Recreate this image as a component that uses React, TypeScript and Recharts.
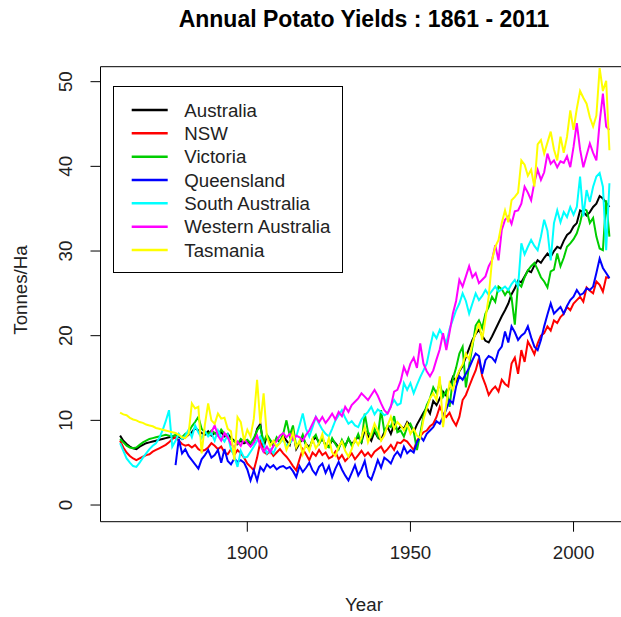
import { LineChart, Line, XAxis, YAxis, ReferenceArea } from "recharts";

// years 1861..2011
const years = Array.from({ length: 151 }, (_, i) => 1861 + i);
const xTicks = [1900, 1950, 2000];
const yTicks = [0, 10, 20, 30, 40, 50];

const australia = [
  8.2, 7.6, 7.2, 6.9, 6.7, 6.6, 6.9, 7.1, 7.3, 7.4,
  7.5, 7.6, 7.7, 7.8, 7.9, 8.0, 8.1, 7.9, 8.1, 7.8,
  8.0, 8.3, 8.6, 9.1, 8.8, 8.5, 8.3, 8.7, 8.2, 8.5,
  8.3, 8.6, 8.1, 8.4, 7.9, 7.6, 7.2, 7.6, 7.3, 7.5,
  7.0, 7.4, 9.0, 9.6, 6.8, 8.2, 7.6, 7.0, 7.8, 7.4,
  8.2, 7.6, 7.1, 8.8, 6.6, 7.3, 7.9, 7.2, 6.8, 7.6,
  8.0, 7.4, 7.8, 7.1, 6.9, 7.7, 7.3, 6.8, 7.5, 7.0,
  7.8, 7.2, 7.6, 8.1, 7.4, 8.9, 8.2, 7.6, 8.7, 8.0,
  7.7, 8.6, 9.2, 8.4, 9.5, 8.8, 9.3, 9.0, 9.8, 9.4,
  8.6, 9.5, 10.2, 10.9, 11.5, 10.8, 12.3, 11.8, 12.6, 13.4,
  12.9, 14.0, 15.1, 14.6, 15.8, 16.4, 17.5, 18.5, 19.5, 20.2,
  20.7, 20.0, 19.4, 19.2, 19.9, 20.7, 21.5, 22.3, 23.0, 23.8,
  24.9, 25.6, 26.5, 26.3, 27.0, 27.7, 27.5, 28.3, 28.9, 28.6,
  29.2, 29.7, 29.3, 30.0, 30.5, 30.3, 31.2, 31.9, 32.2, 32.9,
  33.3, 34.8, 34.6, 34.2, 34.6, 35.2, 35.6, 36.5, 36.2, 35.7,
  35.2,
];

const nsw = [
  7.6, 6.8, 6.2, 5.8, 5.5, 5.3, 5.5, 5.7, 5.9, 6.0,
  6.3, 6.5, 6.7, 6.9, 7.1, 7.4, 7.8, 8.0, 7.6, 7.2,
  7.0, 7.1, 6.8, 7.1, 6.6, 6.4, 6.5, 6.8, 7.3, 7.0,
  6.6, 6.9, 6.2, 6.0, 6.6, 5.9, 6.5, 6.1, 5.6, 4.9,
  4.5, 4.1, 5.6, 7.5, 6.3, 6.0, 6.4, 5.8, 6.2, 6.6,
  6.1, 5.7, 5.2, 4.6, 4.1, 5.4, 6.6, 6.0, 5.3, 6.2,
  5.8, 6.5, 5.9, 6.2, 5.5, 5.7, 6.3, 5.4, 5.9, 5.2,
  5.6, 6.1, 5.4, 5.9, 6.4, 5.8, 6.2, 5.7, 6.3, 6.6,
  6.9, 6.2, 6.6, 7.1, 6.5, 7.4, 7.3, 7.7, 7.5, 7.0,
  6.5, 7.6, 8.1, 8.6, 8.8, 9.3, 9.6, 10.4, 11.6, 10.8,
  10.4, 10.9, 10.0, 9.4, 10.4, 12.4, 13.0, 14.0, 15.0, 15.9,
  17.3, 15.2, 14.2, 13.0, 13.6, 14.0, 13.4, 14.8, 14.3, 14.0,
  16.7, 17.4, 15.5, 18.3, 16.9, 19.3, 18.6, 17.8, 19.1, 20.0,
  20.3, 21.1, 20.6, 21.8, 21.5, 22.2, 22.6, 23.4, 23.0, 23.8,
  24.2, 24.6, 24.0, 25.7, 25.3, 25.0, 26.4, 26.0, 25.2, 26.9,
  26.8,
];

const victoria = [
  7.8, 7.4, 7.0, 6.8, 6.7, 6.8, 7.1, 7.4, 7.6, 7.8,
  7.9, 8.0, 8.1, 8.2, 8.3, 8.2, 8.1, 8.3, 8.2, 8.0,
  8.4, 8.6, 9.3, 9.8, 10.4, 9.0, 8.6, 8.4, 8.8, 8.5,
  8.2, 8.9, 8.4, 8.0, 7.8, 7.5, 7.2, 7.8, 7.5, 7.7,
  7.3, 7.9, 8.8, 9.3, 7.4, 8.3, 7.7, 7.1, 8.0, 7.5,
  8.4, 10.0, 8.2, 9.4, 6.9, 7.4, 8.3, 7.0, 6.6, 7.8,
  8.3, 7.2, 7.9, 7.0, 6.8, 7.9, 7.2, 6.6, 7.7, 6.9,
  7.9, 7.0, 7.5, 8.4, 7.3, 10.8, 8.6, 8.1, 9.0, 8.1,
  11.2, 8.7, 9.4, 9.2, 10.5, 8.6, 8.8, 8.1, 9.2, 9.6,
  8.7, 6.5, 8.4, 10.5, 11.8, 12.6, 13.9, 13.2, 14.4, 12.8,
  13.5, 11.6, 14.9, 16.2, 17.9, 18.7, 13.9, 16.5, 18.7, 21.2,
  21.8, 20.9, 22.6, 23.4, 24.6, 24.0, 25.8, 25.5, 24.8, 25.4,
  24.5, 21.3, 26.2, 25.8, 26.9, 27.7, 28.2, 28.6, 27.8, 26.9,
  26.4, 25.7, 27.6, 27.8, 29.7, 28.2, 29.2, 30.5, 30.9, 31.4,
  32.1, 33.3, 35.0, 34.8, 33.3, 33.9, 31.7, 30.3, 30.1, 36.0,
  31.7,
];

const queensland = [
  null, null, null, null, null, null, null, null, null, null,
  null, null, null, null, null, null, null, 4.7, 7.8, 6.1,
  6.6, 5.8, 5.3, 4.8, 4.3, 5.4, 5.9, 6.5, 5.6, 5.9,
  6.5, 5.0, 6.6, 5.2, 4.8, 5.5, 5.1, 5.3, 5.0, 4.2,
  2.9, 4.1, 2.9, 4.5, 4.0, 4.8, 4.4, 4.7, 4.2, 4.5,
  4.6, 4.3, 4.5, 4.0, 3.3, 4.6, 3.9, 4.4, 5.0, 4.1,
  3.6, 4.5, 4.9, 3.8, 4.6, 3.3, 4.3, 5.1, 4.2, 3.5,
  2.9, 3.8, 4.7, 3.5, 4.2, 5.2, 3.4, 3.0, 4.1, 5.3,
  4.4, 5.6, 5.3, 4.9, 5.8, 6.3, 5.7, 6.9, 6.1, 6.5,
  6.2, 7.4, 8.1, 7.6, 8.4, 8.8, 9.2, 9.9, 9.6, 10.4,
  11.3, 12.4, 12.0, 14.0, 15.2, 14.8, 15.5, 16.2, 17.1, 17.9,
  17.6, 15.5, 17.1, 17.6, 17.4, 16.9, 18.2, 18.7, 20.5, 19.2,
  21.1, 20.4, 19.5, 20.0, 20.3, 21.1, 19.8, 18.7, 18.3, 19.5,
  21.1, 22.5, 23.8, 22.6, 23.0, 23.4, 22.6, 23.5, 24.2, 24.6,
  25.4, 24.8, 25.0, 25.6, 25.4, 25.8, 27.4, 29.1, 28.0, 27.4,
  26.8,
];

const southAustralia = [
  7.3, 6.4, 5.5, 5.0, 4.6, 4.5, 5.0, 5.6, 6.1, 6.6,
  7.0, 7.3, 7.9, 8.8, 9.9, 11.2, 6.9, 7.6, 8.4, 7.8,
  8.2, 8.9, 8.0, 9.4, 8.6, 7.9, 8.7, 8.1, 8.5, 7.6,
  8.8, 8.0, 7.5, 8.3, 6.6, 5.8, 4.5, 6.4, 5.6, 5.7,
  6.3, 6.9, 7.6, 8.1, 7.2, 6.1, 6.6, 6.1, 7.0, 7.4,
  7.7, 7.0, 7.3, 7.8, 8.1, 9.4, 10.8, 9.0, 8.1, 9.2,
  10.4, 9.6, 8.9, 8.4, 8.1, 9.0, 10.0, 10.6, 11.2, 10.3,
  9.6, 9.9, 9.4, 9.2, 10.1, 10.6, 11.0, 11.6, 10.7, 11.3,
  11.0, 10.6, 10.8, 11.7, 12.4, 11.8, 12.0, 14.4, 13.6, 14.4,
  13.2, 14.2, 15.1, 15.9, 16.7, 18.6, 20.3, 19.7, 20.7, 20.0,
  19.1, 20.8, 21.9, 23.0, 23.8, 25.0, 24.1, 22.6, 23.8, 25.0,
  24.2, 24.7, 25.4, 24.8, 25.3, 25.8, 25.2, 25.5, 25.8, 25.4,
  26.1, 26.6, 25.8, 30.9, 29.6, 30.5, 31.3, 30.6, 30.1, 31.7,
  33.7, 32.4, 28.9, 33.3, 34.8, 33.4, 34.6, 34.0, 35.2, 34.3,
  35.2, 38.8, 34.1, 37.2, 35.8, 37.6, 38.8, 39.2, 37.6, 30.1,
  38.0,
];

const westernAustralia = [
  null, null, null, null, null, null, null, null, null, null,
  null, null, null, null, null, null, null, null, null, null,
  null, null, null, null, null, null, null, null, 8.6, 9.4,
  8.2, 7.6, 8.5, 8.0, 7.2, 6.8, 7.5, 7.0, 7.8, 7.3,
  6.9, 7.4, 8.2, 7.0, 6.3, 6.9, 6.2, 7.0, 7.6, 8.2,
  8.5, 8.0, 8.4, 7.7, 8.2, 8.0, 7.6, 8.3, 8.8, 9.6,
  10.4, 9.8, 10.4, 9.7, 10.2, 10.8, 10.1, 11.0, 10.5, 11.6,
  11.0, 11.8, 12.2, 12.6, 13.2, 12.8, 12.4, 13.0, 13.6, 12.9,
  12.0, 11.2, 10.8, 11.6, 13.4, 13.6, 14.6, 16.3, 15.4, 16.7,
  17.4, 16.2, 19.1, 16.7, 15.8, 15.2, 15.9, 17.2, 18.4, 20.3,
  18.3, 20.4, 22.6, 24.1, 26.6, 25.8, 27.0, 28.2, 26.9, 27.4,
  26.2, 26.6, 27.0, 28.2, 28.9, 30.7, 28.9, 32.5, 33.7, 34.1,
  33.2, 34.7, 34.8, 35.6, 37.6, 36.9, 36.0, 38.1, 39.6, 38.4,
  39.3, 41.5, 40.3, 40.7, 39.9, 40.6, 40.4, 41.2, 39.9, 42.3,
  45.1, 42.0, 39.9, 41.3, 42.7, 41.6, 40.7, 45.2, 48.6, 44.7,
  44.3,
];

const tasmania = [
  10.9, 10.7, 10.6, 10.3, 10.1, 10.0, 9.8, 9.7, 9.5, 9.4,
  9.3, 9.1, 9.0, 8.9, 8.8, 8.7, 8.6, 8.5, 8.3, 8.0,
  7.9, 8.4, 12.0, 11.4, 11.6, 6.1, 9.5, 12.0, 10.0, 9.6,
  10.8, 10.2, 10.3, 9.0, 8.7, 5.3, 10.4, 9.8, 7.6, 8.9,
  8.1, 10.2, 14.8, 9.6, 13.2, 8.1, 7.0, 7.6, 6.9, 7.3,
  8.0, 6.5, 7.4, 8.6, 6.8, 7.6, 6.0, 7.2, 6.4, 7.8,
  6.7, 7.3, 8.4, 6.6, 7.9, 6.2, 5.8, 6.9, 7.5, 6.4,
  5.7, 6.6, 7.8, 7.1, 8.0, 9.2, 7.4, 8.4, 9.6, 8.8,
  7.6, 8.2, 9.4, 10.4, 9.0, 9.8, 9.4, 8.8, 9.6, 8.4,
  9.0, 8.2, 7.9, 10.1, 11.4, 12.6, 13.2, 12.4, 15.2, 9.2,
  12.0, 14.4, 13.6, 15.0, 15.9, 16.6, 17.9, 17.2, 19.1, 20.3,
  21.5, 19.5, 22.0, 24.6, 28.9, 30.5, 31.3, 33.3, 34.8, 33.4,
  36.0, 36.4, 36.9, 40.7, 40.2, 38.9, 39.6, 37.6, 42.6, 43.1,
  41.5, 42.8, 44.1, 42.0, 40.7, 43.5, 41.6, 43.5, 46.6, 44.3,
  46.8, 48.9, 48.1, 47.4, 45.8, 44.7, 46.0, 51.6, 48.9, 50.1,
  41.9,
];

const series = [
  { key: "australia", name: "Australia", color: "#000000", values: australia },
  { key: "nsw", name: "NSW", color: "#FF0000", values: nsw },
  { key: "victoria", name: "Victoria", color: "#00CD00", values: victoria },
  { key: "queensland", name: "Queensland", color: "#0000FF", values: queensland },
  { key: "sa", name: "South Australia", color: "#00FFFF", values: southAustralia },
  { key: "wa", name: "Western Australia", color: "#FF00FF", values: westernAustralia },
  { key: "tas", name: "Tasmania", color: "#FFFF00", values: tasmania },
];

const data = years.map((year, i) => {
  const row: Record<string, number | null> = { year };
  series.forEach((s) => {
    row[s.key] = s.values[i];
  });
  return row;
});

const FONT = '"Liberation Sans", Arial, Helvetica, sans-serif';
const TXT = "#222";

const XTick = (props: any) => {
  const { x, y, payload } = props;
  return (
    <text x={x} y={y} dy="0.71em" textAnchor="middle" fontSize={18.7} fill={TXT} fontFamily={FONT}>
      {payload.value}
    </text>
  );
};

const YTick = (props: any) => {
  const { y, payload } = props;
  return (
    <text
      x={65}
      y={y}
      dy="0.36em"
      transform={`rotate(-90 65 ${y})`}
      textAnchor="middle"
      fontSize={18.7}
      fill={TXT}
      fontFamily={FONT}
    >
      {payload.value}
    </text>
  );
};

export default function App() {
  return (
    <div
      style={{
        position: "absolute",
        left: 0,
        top: 0,
        width: 621,
        height: 617,
        overflow: "hidden",
        background: "#fff",
        fontFamily: FONT,
      }}
    >
      <LineChart width={640} height={617} data={data} margin={{ top: 66.7, right: 11, bottom: 0, left: 0 }}>
        <XAxis
          dataKey="year"
          type="number"
          domain={[1855, 2017]}
          ticks={xTicks}
          allowDataOverflow
          axisLine={false}
          tickLine={{ stroke: "#000" }}
          tickSize={10}
          tickMargin={13.7}
          tick={XTick}
          height={95.3}
        />
        <YAxis
          type="number"
          domain={[-1.97, 51.77]}
          ticks={yTicks}
          allowDataOverflow
          axisLine={false}
          tickLine={{ stroke: "#000" }}
          tickSize={10}
          tick={YTick}
          width={100.5}
        />
        {series.map((s) => (
          <Line
            key={s.key}
            dataKey={s.key}
            name={s.name}
            type="linear"
            stroke={s.color}
            strokeWidth={2}
            dot={false}
            activeDot={false}
            isAnimationActive={false}
          />
        ))}
        <ReferenceArea x1={1855} x2={2017} y1={-1.97} y2={51.77} fill="none" stroke="#000" strokeWidth={1} />
      </LineChart>

      <svg width={621} height={617} style={{ position: "absolute", left: 0, top: 0, pointerEvents: "none" }}>
        <text x={364} y={27} textAnchor="middle" fontWeight="bold" fontSize={23} fill="#000" fontFamily={FONT}>
          Annual Potato Yields : 1861 - 2011
        </text>
        <text x={364} y={604} dy="0.36em" textAnchor="middle" fontSize={18.7} fill={TXT} fontFamily={FONT}>
          Year
        </text>
        <text
          x={20}
          y={290}
          dy="0.36em"
          transform="rotate(-90 20 290)"
          textAnchor="middle"
          fontSize={18.7}
          fill={TXT}
          fontFamily={FONT}
        >
          Tonnes/Ha
        </text>
        <rect x={113.5} y={86.5} width={229} height={186} fill="#fff" stroke="#000" strokeWidth={1} />
        {series.map((s, i) => {
          const cy = 110 + i * 23.33;
          return (
            <g key={s.key}>
              <line x1={131.7} x2={167.7} y1={cy} y2={cy} stroke={s.color} strokeWidth={2.5} />
              <text x={184.3} y={cy} dy="0.36em" fontSize={18.7} fill={TXT} fontFamily={FONT}>
                {s.name}
              </text>
            </g>
          );
        })}
      </svg>
    </div>
  );
}
